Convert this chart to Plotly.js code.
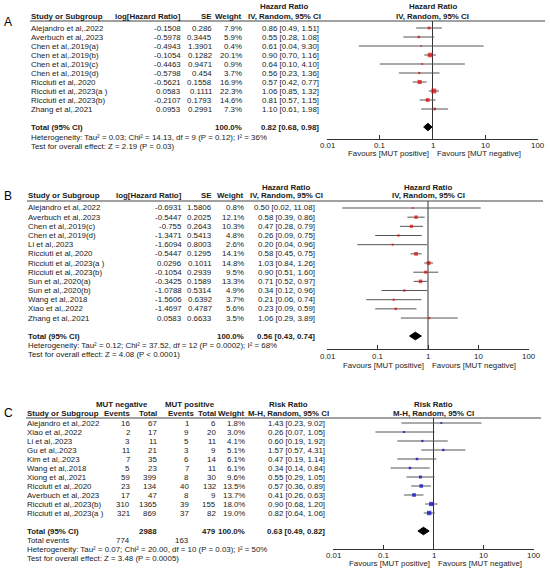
<!DOCTYPE html>
<html>
<head>
<meta charset="utf-8">
<script src="https://cdn.plot.ly/plotly-3.0.1.min.js"></script>
<style>html,body{margin:0;padding:0;background:#fff}</style>
</head>
<body>
<div id="chart" style="width:550px;height:571px"></div>
<script>
// ---- panel A: overall HR ----
const studiesA = ['Alejandro et al,.2022', 'Averbuch et al,.2023', 'Chen et al,.2019(a)', 'Chen et al,.2019(b)',
  'Chen et al,.2019(c)', 'Chen et al,.2019(d)', 'Ricciuti et al,.2020', 'Ricciuti et al,.2023(a )',
  'Ricciuti et al,.2023(b)', 'Zhang et al,.2021']
const logHrA = [-0.1508, -0.5978, -0.4943, -0.1054, -0.4463, -0.5798, -0.5621, 0.0583, -0.2107, 0.0953]
const seA = [0.286, 0.3445, 1.3901, 0.1282, 0.9471, 0.454, 0.1558, 0.1111, 0.1793, 0.2991]
const weightA = [7.9, 5.9, 0.4, 20.1, 0.9, 3.7, 16.9, 22.3, 14.6, 7.3]
const hrA = [0.86, 0.55, 0.61, 0.90, 0.64, 0.56, 0.57, 1.06, 0.81, 1.10]
const loA = [0.49, 0.28, 0.04, 0.70, 0.10, 0.23, 0.42, 0.85, 0.57, 0.61]
const hiA = [1.51, 1.08, 9.30, 1.16, 4.10, 1.36, 0.77, 1.32, 1.15, 1.98]
const totalA = [0.82, 0.68, 0.98]
const hetA = 'Heterogeneity: Tau² = 0.03; Chi² = 14.13, df = 9 (P = 0.12); I² = 36%'
const testA = 'Test for overall effect: Z = 2.19 (P = 0.03)'

// ---- panel B ----
const studiesB = ['Alejandro et al,.2022', 'Averbuch et al,.2023', 'Chen et al,.2019(c)', 'Chen et al,.2019(d)',
  'Li et al,.2023', 'Ricciuti et al,.2020', 'Ricciuti et al,.2023(a )', 'Ricciuti et al,.2023(b)',
  'Sun et al,.2020(a)', 'Sun et al,.2020(b)', 'Wang et al,.2018', 'Xiao et al,.2022', 'Zhang et al,.2021']
const logHrB = [-0.6931, -0.5447, -0.755, -1.3471, -1.6094, -0.5447, 0.0296, -0.1054, -0.3425, -1.0788, -1.5606, -1.4697, 0.0583]
const seB = [1.5806, 0.2025, 0.2643, 0.5413, 0.8003, 0.1295, 0.1011, 0.2939, 0.1589, 0.5314, 0.6392, 0.4787, 0.6633]
const weightB = [0.8, 12.1, 10.3, 4.8, 2.6, 14.1, 14.8, 9.5, 13.3, 4.9, 3.7, 5.6, 3.5]
const hrB = [0.50, 0.58, 0.47, 0.26, 0.20, 0.58, 1.03, 0.90, 0.71, 0.34, 0.21, 0.23, 1.06]
const loB = [0.02, 0.39, 0.28, 0.09, 0.04, 0.45, 0.84, 0.51, 0.52, 0.12, 0.06, 0.09, 0.29]
const hiB = [11.08, 0.86, 0.79, 0.75, 0.96, 0.75, 1.26, 1.60, 0.97, 0.96, 0.74, 0.59, 3.89]
const totalB = [0.56, 0.43, 0.74]
const hetB = 'Heterogeneity: Tau² = 0.12; Chi² = 37.52, df = 12 (P = 0.0002); I² = 68%'
const testB = 'Test for overall effect: Z = 4.08 (P < 0.0001)'

// ---- panel C: risk ratio ----
const studiesC = ['Alejandro et al,.2022', 'Xiao et al,.2022', 'Li et al,.2023', 'Gu et al,.2023', 'Kim et al,.2023',
  'Wang et al,.2018', 'Xiong et al,.2021', 'Ricciuti et al,.2020', 'Averbuch et al,.2023',
  'Ricciuti et al,.2023(b)', 'Ricciuti et al,.2023(a )']
const negEvents = [16, 2, 3, 11, 7, 5, 59, 23, 17, 310, 321]
const negTotal = [67, 17, 11, 21, 35, 23, 399, 134, 47, 1365, 869]
const posEvents = [1, 9, 5, 3, 6, 7, 8, 40, 8, 39, 37]
const posTotal = [6, 20, 11, 9, 14, 11, 30, 132, 9, 155, 82]
const weightC = [1.8, 3.0, 4.1, 5.1, 6.1, 6.1, 9.6, 13.5, 13.7, 18.0, 19.0]
const rrC = [1.43, 0.26, 0.60, 1.57, 0.47, 0.34, 0.55, 0.57, 0.41, 0.90, 0.82]
const loC = [0.23, 0.07, 0.19, 0.57, 0.19, 0.14, 0.29, 0.36, 0.26, 0.68, 0.64]
const hiC = [9.02, 1.05, 1.92, 4.31, 1.14, 0.84, 1.05, 0.89, 0.63, 1.20, 1.06]
const totalC = [0.63, 0.49, 0.82]
const sumsC = [774, 2988, 163, 479]
const hetC = 'Heterogeneity: Tau² = 0.07; Chi² = 20.00, df = 10 (P = 0.03); I² = 50%'
const testC = 'Test for overall effect: Z = 3.48 (P = 0.0005)'

const tickVals = [0.01, 0.1, 1, 10, 100]
const tickText = ['0.01', '0.1', '1', '10', '100']

// ---- layout helpers (pixel positions) ----
const W = 550
const H = 571
const px = x => x / W
const py = y => 1 - y / H
const FONT = '"Liberation Sans", Arial, sans-serif'
const FS = 7.9
const INK = '#1a1a1a'

const annotations = []
const shapes = []
const traces = []

const addText = (text, x, y, opts = {}) => annotations.push(Object.assign({
  text, x, y, xref: 'paper', yref: 'paper', showarrow: false,
  xanchor: 'left', yanchor: 'middle', borderpad: 0,
  font: { family: FONT, size: FS, color: INK }
}, opts))

const fmtCI = (v, l, h) => `${v.toFixed(2)} [${l.toFixed(2)}, ${h.toFixed(2)}]`
const pct = w => w.toFixed(1) + '%'

const panels = {
  A: { xn: 'x', yn: 'y', left: 30, right: 545, head1: 7, head2: 16, hline: 21, row0: 28, step: 9,
    total: 127, axis: 139, xd: [327, 538], foot: [137, 146], tickY: 145, fav: 153, label: 22,
    col: { log: 182, se: 213, wt: 243, ci: 320, ciHead: 284 }, color: '#e00000' },
  B: { xn: 'x2', yn: 'y2', left: 27, right: 543, head1: 187, head2: 196, hline: 201, row0: 208, step: 9.17,
    total: 336, axis: 349, xd: [327, 529], foot: [345, 354], tickY: 356, fav: 365, label: 196,
    col: { log: 183, se: 213, wt: 245, ci: 316, ciHead: 286 }, color: '#e00000' },
  C: { xn: 'x3', yn: 'y3', left: 26, right: 541, head1: 404, head2: 413, hline: 418, row0: 423, step: 9,
    total: 531, axis: 549, xd: [333, 534], foot: [549, 558], tickY: 555, fav: 563, label: 413, events: 540,
    col: { negEv: 131, negTot: 158, posEv: 190, posEvHead: 195, posTot: 217, wt: 246, ci: 326, ciHead: 288,
      mutNeg: 122, mutPos: 190 },
    color: '#0000c8' }
}

const layout = {
  width: W, height: H, margin: { l: 0, r: 0, t: 0, b: 0 },
  showlegend: false, paper_bgcolor: '#fff', plot_bgcolor: 'rgba(0,0,0,0)'
}

// forest marks + axes, shared by all three panels
const drawForest = (key, est, lo, hi, weight, total, headTop, headBottom) => {
  const p = panels[key]
  const rowOf = y => (y - p.row0) / p.step
  const idx = est.map((_, i) => i)
  const tRow = rowOf(p.total)
  const axisSuffix = p.xn.slice(1)

  layout['xaxis' + axisSuffix] = {
    type: 'log', range: [-2, 2], domain: [px(p.xd[0]), px(p.xd[1])], anchor: p.yn,
    showline: true, linecolor: '#333', linewidth: 1, showgrid: false, zeroline: false,
    ticks: 'inside', ticklen: 4, tickcolor: '#333', tickvals: tickVals,
    showticklabels: false, fixedrange: true
  }
  layout['yaxis' + axisSuffix] = {
    range: [rowOf(p.axis), rowOf(p.hline)], domain: [py(p.axis), py(p.hline)], anchor: p.xn,
    visible: false, fixedrange: true
  }

  // tick labels placed by hand so they sit close to the axis line
  tickVals.forEach((v, i) => addText(tickText[i], Math.log10(v), py(p.tickY), { xref: p.xn, xanchor: 'center' }))

  // line of no effect
  traces.push({
    x: [1, 1], y: [rowOf(p.hline), rowOf(p.axis)], xaxis: p.xn, yaxis: p.yn,
    mode: 'lines', line: { color: '#333', width: 1 }, hoverinfo: 'skip', cliponaxis: false
  })
  // study estimates with CI
  traces.push({
    x: est, y: idx, xaxis: p.xn, yaxis: p.yn, type: 'scatter', mode: 'markers', cliponaxis: false,
    marker: { symbol: 'square', size: weight.map(w => 1.6 + 0.15 * w), color: p.color, line: { width: 0 } },
    error_x: {
      type: 'data', symmetric: false, width: 0, thickness: 1, color: '#555',
      array: hi.map((h, i) => h - est[i]), arrayminus: lo.map((l, i) => est[i] - l)
    }
  })
  // pooled diamond
  traces.push({
    x: [total[1], total[0], total[2], total[0], total[1]],
    y: [tRow, tRow - 0.42, tRow, tRow + 0.42, tRow],
    xaxis: p.xn, yaxis: p.yn, mode: 'lines', fill: 'toself', fillcolor: '#000',
    line: { color: '#000', width: 1 }, hoverinfo: 'skip'
  })

  // header rule
  shapes.push({ type: 'line', xref: 'paper', yref: 'paper', x0: px(p.left), x1: px(p.right),
    y0: py(p.hline), y1: py(p.hline), line: { color: '#444', width: 1.2 } })

  // plot headers
  const ph = { xref: p.xn, xanchor: 'center' }
  addText(`<b>${headTop}</b>`, 0, py(p.head1), ph)
  addText(`<b>${headBottom}</b>`, 0, py(p.head2), ph)
  addText(`<b>${headTop}</b>`, px(p.col.ciHead), py(p.head1), { xanchor: 'center' })
  addText(`<b>${headBottom}</b>`, px(p.col.ciHead), py(p.head2), { xanchor: 'center' })

  // favours labels
  addText('Favours [MUT positive]', 0, py(p.fav), { xref: p.xn, xanchor: 'right', xshift: -3 })
  addText('Favours [MUT negative]', 0, py(p.fav), { xref: p.xn, xanchor: 'left', xshift: 3 })

  // panel letter
  addText(key, px(8), py(p.label), { xanchor: 'center', font: { family: FONT, size: 12, color: '#000' } })

  // estimate column
  est.forEach((v, i) => addText(fmtCI(v, lo[i], hi[i]), px(p.col.ci), i, { yref: p.yn, xanchor: 'right' }))
  addText(`<b>${fmtCI(total[0], total[1], total[2])}</b>`, px(p.col.ci), tRow, { yref: p.yn, xanchor: 'right' })
  return tRow
}

// table part of the HR panels
const drawHrTable = (key, studies, logHr, se, weight, het, test) => {
  const p = panels[key]
  const tRow = (p.total - p.row0) / p.step
  const r = { yref: p.yn, xanchor: 'right' }
  addText('<b>Study or Subgroup</b>', px(p.left), py(p.head2))
  addText('<b>log[Hazard Ratio]</b>', px(p.col.log), py(p.head2), { xanchor: 'right' })
  addText('<b>SE</b>', px(p.col.se), py(p.head2), { xanchor: 'right' })
  addText('<b>Weight</b>', px(p.col.wt), py(p.head2), { xanchor: 'right' })
  studies.forEach((s, i) => {
    addText(s, px(p.left), i, { yref: p.yn })
    addText(String(logHr[i]), px(p.col.log), i, r)
    addText(String(se[i]), px(p.col.se), i, r)
    addText(pct(weight[i]), px(p.col.wt), i, r)
  })
  addText('<b>Total (95% CI)</b>', px(p.left), tRow, { yref: p.yn })
  addText('<b>100.0%</b>', px(p.col.wt), tRow, r)
  addText(het, px(p.left), py(p.foot[0]))
  addText(test, px(p.left), py(p.foot[1]))
}

drawForest('A', hrA, loA, hiA, weightA, totalA, 'Hazard Ratio', 'IV, Random, 95% CI')
drawHrTable('A', studiesA, logHrA, seA, weightA, hetA, testA)
drawForest('B', hrB, loB, hiB, weightB, totalB, 'Hazard Ratio', 'IV, Random, 95% CI')
drawHrTable('B', studiesB, logHrB, seB, weightB, hetB, testB)
const tRowC = drawForest('C', rrC, loC, hiC, weightC, totalC, 'Risk Ratio', 'M-H, Random, 95% CI')

// table part of panel C
{
  const p = panels.C
  const r = { yref: p.yn, xanchor: 'right' }
  const hr = { xanchor: 'right' }
  addText('<b>MUT negative</b>', px(p.col.mutNeg), py(p.head1), { xanchor: 'center' })
  addText('<b>MUT positive</b>', px(p.col.mutPos), py(p.head1), { xanchor: 'center' })
  addText('<b>Study or Subgroup</b>', px(p.left), py(p.head2))
  addText('<b>Events</b>', px(p.col.negEv), py(p.head2), hr)
  addText('<b>Total</b>', px(p.col.negTot), py(p.head2), hr)
  addText('<b>Events</b>', px(p.col.posEvHead), py(p.head2), hr)
  addText('<b>Total</b>', px(p.col.posTot), py(p.head2), hr)
  addText('<b>Weight</b>', px(p.col.wt), py(p.head2), hr)
  studiesC.forEach((s, i) => {
    addText(s, px(p.left), i, { yref: p.yn })
    addText(String(negEvents[i]), px(p.col.negEv), i, r)
    addText(String(negTotal[i]), px(p.col.negTot), i, r)
    addText(String(posEvents[i]), px(p.col.posEv), i, r)
    addText(String(posTotal[i]), px(p.col.posTot), i, r)
    addText(pct(weightC[i]), px(p.col.wt), i, r)
  })
  addText('<b>Total (95% CI)</b>', px(p.left), tRowC, { yref: p.yn })
  addText(`<b>${sumsC[1]}</b>`, px(p.col.negTot), tRowC, r)
  addText(`<b>${sumsC[3]}</b>`, px(p.col.posTot), tRowC, r)
  addText('<b>100.0%</b>', px(p.col.wt), tRowC, r)
  addText('Total events', px(p.left), py(p.events))
  addText(String(sumsC[0]), px(p.col.negEv), py(p.events), hr)
  addText(String(sumsC[2]), px(p.col.posEv), py(p.events), hr)
  addText(hetC, px(p.left), py(p.foot[0]))
  addText(testC, px(p.left), py(p.foot[1]))
}

layout.annotations = annotations
layout.shapes = shapes

try {
  Plotly.newPlot('chart', traces, layout, { staticPlot: true, displayModeBar: false })
} catch (e) {
  console.log('ERR', e)
}
</script>
</body>
</html>
